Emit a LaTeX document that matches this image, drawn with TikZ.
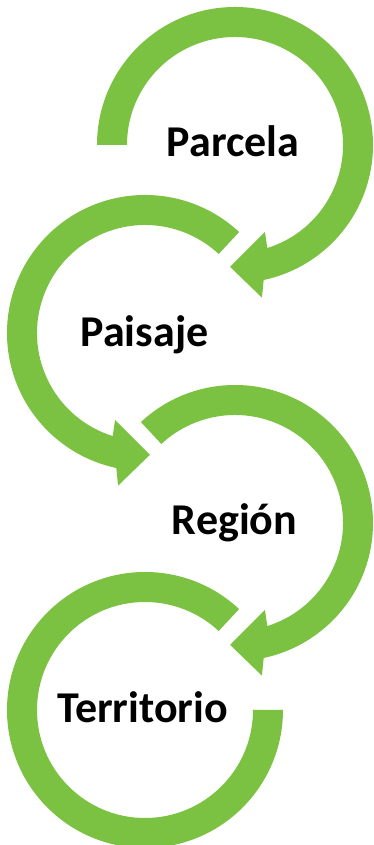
\documentclass[tikz,border=0pt]{standalone}
\usepackage{fontspec}
\setmainfont{Carlito}
\usetikzlibrary{calc}
\definecolor{arrowgreen}{RGB}{124,194,66}
\tikzset{
  ring/.style={fill=arrowgreen},
  label/.style={font=\bfseries\fontsize{44}{52}\selectfont, text=black, inner sep=0pt, anchor=base}
}
\newcommand\cwring[2]{%
  \begin{scope}[shift={(#1)}]
    \fill[ring] (#2:138) arc[start angle=#2,end angle=-78,radius=138]
      -- (-80:155) -- (-92.3:122) -- (-71:92) -- (-72.6:108)
      arc[start angle=-72.6,end angle=#2,radius=108] -- cycle;
  \end{scope}}
\newcommand\ccwring[2]{%
  \begin{scope}[shift={(#1)}]
    \fill[ring] (#2:138) arc[start angle=#2,end angle=258,radius=138]
      -- (260:155) -- (272.3:122) -- (251:92) -- (252.6:108)
      arc[start angle=252.6,end angle=#2,radius=108] -- cycle;
  \end{scope}}
\begin{document}
\begin{tikzpicture}[x=1pt,y=1pt]
\useasboundingbox (0,0) rectangle (374,845);
\coordinate (c1) at (235,700);
\coordinate (c2) at (145,512);
\coordinate (c3) at (235,322);
\coordinate (c4) at (145,135);
\cwring{c1}{180}
\ccwring{c2}{47}
\cwring{c3}{133}
\begin{scope}[shift={(c4)}]
  \fill[ring] (47:138) arc[start angle=47,end angle=360,radius=138]
    -- (0:108) arc[start angle=360,end angle=47,radius=108] -- cycle;
\end{scope}
\node[label] (parcela) at ($(c1)+(-2,-12)$) {Parcela};
\node[label] (paisaje) at ($(c2)+(-0.5,-14)$) {Paisaje};
\node[label] (region) at ($(c3)+(-0.5,-12)$) {Región};
\node[label] (territorio) at ($(c4)+(-2.5,-13)$) {Territorio};
\end{tikzpicture}
\end{document}
